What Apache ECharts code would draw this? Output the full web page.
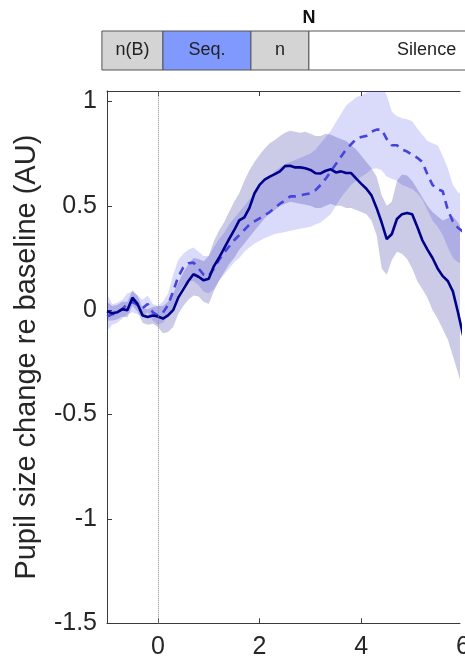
<!DOCTYPE html>
<html>
<head>
<meta charset="utf-8">
<script src="https://cdn.jsdelivr.net/npm/echarts@6/dist/echarts.min.js"></script>
<style>
  html, body { margin: 0; padding: 0; overflow: hidden; background: #ffffff; }
  #chart { width: 600px; height: 660px; }
</style>
</head>
<body>
<div id="chart"></div>
<script>
// Time relative to sequence onset (s)
const timeSec = [
  -1.0, -0.9, -0.8, -0.7, -0.6, -0.5, -0.4, -0.3, -0.2, -0.1,
   0.0,  0.1,  0.2,  0.3,  0.4,  0.5,  0.6,  0.7,  0.8,  0.9,
   1.0,  1.1,  1.2,  1.3,  1.4,  1.5,  1.6,  1.7,  1.8,  1.9,
   2.0,  2.1,  2.2,  2.3,  2.4,  2.5,  2.6,  2.7,  2.8,  2.9,
   3.0,  3.1,  3.2,  3.3,  3.4,  3.5,  3.6,  3.7,  3.8,  3.9,
   4.0,  4.1,  4.2,  4.3,  4.4,  4.5,  4.6,  4.7,  4.8,  4.9,
   5.0,  5.1,  5.2,  5.3,  5.4,  5.5,  5.6,  5.7,  5.8,  5.9,
   6.0
];

// Condition 1 (solid): mean and error band
const meanSolid = [
  -0.005, -0.015, -0.01, 0.005, 0.0, 0.06, 0.03, -0.025, -0.033, -0.025,
  -0.03, -0.04, -0.025, 0.0, 0.06, 0.1, 0.14, 0.172, 0.16, 0.143,
  0.15, 0.21, 0.25, 0.295, 0.34, 0.383, 0.43, 0.445, 0.49, 0.56,
  0.6, 0.625, 0.64, 0.652, 0.665, 0.69, 0.692, 0.684, 0.684, 0.68,
  0.672, 0.656, 0.655, 0.668, 0.675, 0.66, 0.665, 0.657, 0.657, 0.63,
  0.605, 0.582, 0.55, 0.49, 0.42, 0.34, 0.365, 0.437, 0.46, 0.466,
  0.46, 0.40, 0.335, 0.29, 0.25, 0.2, 0.163, 0.14, 0.09, -0.01,
  -0.12
];
const lowSolid = [
  -0.05, -0.05, -0.045, -0.03, -0.035, 0.02, -0.005, -0.06, -0.07, -0.065,
  -0.08, -0.11, -0.105, -0.08, -0.02, 0.02, 0.05, 0.07, 0.065, 0.04,
  0.03, 0.09, 0.14, 0.18, 0.22, 0.25, 0.29, 0.32, 0.35, 0.38,
  0.41, 0.44, 0.465, 0.48, 0.5, 0.51, 0.52, 0.515, 0.51, 0.505,
  0.5, 0.49, 0.49, 0.5, 0.51, 0.5, 0.5, 0.49, 0.49, 0.48,
  0.47, 0.46, 0.43, 0.36, 0.2, 0.17, 0.24, 0.28, 0.27, 0.245,
  0.2, 0.14, 0.1, 0.06, 0.0, -0.04, -0.09, -0.14, -0.22, -0.3,
  -0.38
];
const highSolid = [
  0.04, 0.02, 0.025, 0.04, 0.04, 0.095, 0.07, 0.01, 0.005, 0.015,
  0.02, 0.02, 0.04, 0.08, 0.13, 0.18, 0.22, 0.25, 0.245, 0.235,
  0.26, 0.33, 0.38, 0.42, 0.47, 0.52, 0.56, 0.62, 0.67, 0.71,
  0.745, 0.775, 0.8, 0.815, 0.835, 0.85, 0.86, 0.855, 0.85, 0.855,
  0.845, 0.835, 0.835, 0.845, 0.84, 0.83, 0.82, 0.81, 0.79, 0.77,
  0.74, 0.71, 0.68, 0.64, 0.55, 0.5, 0.52, 0.62, 0.65, 0.645,
  0.62, 0.58, 0.54, 0.5, 0.47, 0.45, 0.43, 0.44, 0.45, 0.42,
  0.38
];

// Condition 2 (dashed): mean and error band
const meanDashed = [
  -0.03, -0.02, -0.013, 0.005, 0.03, 0.04, 0.025, 0.01, 0.03, -0.01,
  -0.025, -0.012, 0.025, 0.09, 0.16, 0.205, 0.225, 0.228, 0.2, 0.17,
  0.163, 0.2, 0.24, 0.275, 0.305, 0.335, 0.36, 0.385, 0.41, 0.425,
  0.44, 0.455, 0.47, 0.49, 0.51, 0.525, 0.545, 0.545, 0.55, 0.555,
  0.56, 0.575, 0.6, 0.63, 0.665, 0.7, 0.735, 0.77, 0.795, 0.82,
  0.83, 0.835, 0.855, 0.865, 0.865, 0.82, 0.79, 0.79, 0.77, 0.76,
  0.745, 0.73, 0.71, 0.65, 0.6, 0.58, 0.57, 0.48, 0.425, 0.395,
  0.375
];
const lowDashed = [
  -0.1, -0.07, -0.06, -0.04, -0.02, -0.01, -0.02, -0.03, -0.01, -0.05,
  -0.07, -0.06, -0.03, 0.02, 0.08, 0.12, 0.14, 0.14, 0.12, 0.09,
  0.08, 0.1, 0.14, 0.17, 0.2, 0.23, 0.25, 0.28, 0.3, 0.32,
  0.333, 0.345, 0.355, 0.365, 0.37, 0.375, 0.38, 0.385, 0.39, 0.395,
  0.4, 0.41, 0.42, 0.44, 0.46, 0.5, 0.54, 0.57, 0.6, 0.62,
  0.64, 0.655, 0.675, 0.68, 0.67, 0.64, 0.63, 0.62, 0.6, 0.59,
  0.58, 0.56, 0.53, 0.48, 0.43, 0.4, 0.36, 0.3, 0.25, 0.23,
  0.22
];
const highDashed = [
  0.08, 0.03, 0.035, 0.05, 0.08, 0.09, 0.07, 0.05, 0.07, 0.03,
  0.02, 0.04, 0.08, 0.17, 0.24, 0.27, 0.29, 0.3, 0.28, 0.26,
  0.26, 0.3, 0.34, 0.37, 0.41, 0.44, 0.47, 0.5, 0.53, 0.56,
  0.59, 0.615, 0.64, 0.665, 0.685, 0.70, 0.71, 0.72, 0.73, 0.74,
  0.75, 0.77, 0.80, 0.83, 0.86, 0.9, 0.94, 0.98, 1.0, 1.02,
  1.03, 1.04, 1.06, 1.08, 1.07, 1.03, 0.95, 0.93, 0.92, 0.915,
  0.905, 0.87, 0.84, 0.81, 0.80, 0.79, 0.74, 0.68, 0.6, 0.565,
  0.55
];

// Axis ticks
const xTicks = [0, 2, 4, 6, 8];
const yTicks = [-1.5, -1, -0.5, 0, 0.5, 1];

// Trial timeline (s)
const phaseNames = ['n(B)', 'Seq.', 'n', 'Silence'];
const phaseStart = [-1.1, 0.1, 1.83, 2.97];
const phaseEnd = [0.1, 1.83, 2.97, 7.6];
const eventNames = ['N'];
const eventTime = [2.97];

const FONT = '"Liberation Sans", Arial, Helvetica, sans-serif';
const AXIS_COLOR = '#3a3a3a';
const TEXT_COLOR = '#262626';
const X_MIN = -1;
const X_MAX = 8;          // full time scale (labels, timeline)
const X_MAX_PLOT = 5.94;  // visible end of the data panel
const Y_MIN = -1.5, Y_MAX = 1.05;

const phaseFill = { 'n(B)': '#d4d4d4', 'Seq.': '#8099ff', 'n': '#d4d4d4', 'Silence': '#ffffff' };

function pairs(ys) { return timeSec.map((t, i) => [t, ys[i]]); }

const chart = echarts.init(document.getElementById('chart'), null, { renderer: 'canvas' });

// Shaded error band: one polygon through the upper bound and back along the lower bound
function bandSeries(lo, hi, color) {
  return {
    type: 'custom', xAxisIndex: 0, yAxisIndex: 0, clip: true, silent: true, z: 1,
    data: timeSec.map((t, i) => [t, lo[i], hi[i]]),
    renderItem: function (params, api) {
      if (params.dataIndex !== 0) return null;
      const upper = timeSec.map((t, i) => api.coord([t, hi[i]]));
      const lower = timeSec.map((t, i) => api.coord([t, lo[i]])).reverse();
      return {
        type: 'polygon',
        shape: { points: upper.concat(lower) },
        style: { fill: color, stroke: null }
      };
    }
  };
}

const option = {
  animation: false,
  backgroundColor: '#ffffff',
  textStyle: { fontFamily: FONT },
  grid: [
    // data panel
    { left: 107, top: 91, right: 140, bottom: 36.7, show: false },
    // timeline strip
    { left: 107, top: 0, right: 35.3, height: 70, show: false },
    // time labels under the panel (same scale as the panel)
    { left: 107, top: 91, right: 35.3, bottom: 36.7, show: false }
  ],
  xAxis: [
    {
      type: 'value', gridIndex: 0, position: 'bottom', min: X_MIN, max: X_MAX_PLOT,
      axisLine: { show: true, onZero: false, lineStyle: { color: AXIS_COLOR, width: 1 } },
      axisTick: { show: true, inside: true, length: 5, customValues: xTicks, lineStyle: { color: AXIS_COLOR } },
      axisLabel: { show: false },
      splitLine: { show: false }
    },
    {
      type: 'value', gridIndex: 0, position: 'top', min: X_MIN, max: X_MAX_PLOT,
      axisLine: { show: true, onZero: false, lineStyle: { color: AXIS_COLOR, width: 1 } },
      axisTick: { show: true, inside: true, length: 5, customValues: xTicks, lineStyle: { color: AXIS_COLOR } },
      axisLabel: { show: false },
      splitLine: { show: false }
    },
    {
      type: 'value', gridIndex: 1, min: X_MIN, max: X_MAX, show: false
    },
    {
      type: 'value', gridIndex: 2, position: 'bottom', min: X_MIN, max: X_MAX,
      axisLine: { show: false },
      axisTick: { show: false },
      axisLabel: { show: true, customValues: xTicks, fontSize: 25, color: TEXT_COLOR, margin: 14, fontFamily: FONT },
      splitLine: { show: false }
    }
  ],
  yAxis: [
    {
      type: 'value', gridIndex: 0, position: 'left', min: Y_MIN, max: Y_MAX,
      name: 'Pupil size change re baseline (AU)', nameLocation: 'middle', nameGap: 66,
      nameTextStyle: { fontSize: 29, color: TEXT_COLOR, fontFamily: FONT },
      axisLine: { show: true, onZero: false, lineStyle: { color: AXIS_COLOR, width: 1 } },
      axisTick: { show: true, inside: true, length: 5, customValues: yTicks, lineStyle: { color: AXIS_COLOR } },
      axisLabel: { show: true, customValues: yTicks, fontSize: 25, color: TEXT_COLOR, margin: 10, fontFamily: FONT },
      splitLine: { show: false }
    },
    {
      type: 'value', gridIndex: 1, min: 0, max: 1.795, show: false
    },
    {
      type: 'value', gridIndex: 2, min: Y_MIN, max: Y_MAX, show: false
    }
  ],
  series: [
    bandSeries(lowDashed, highDashed, 'rgba(70, 70, 235, 0.2)'),
    bandSeries(lowSolid, highSolid, 'rgba(20, 20, 150, 0.22)'),
    {
      // stimulus onset marker
      type: 'line', xAxisIndex: 0, yAxisIndex: 0, data: [], silent: true,
      markLine: {
        silent: true, symbol: 'none', animation: false,
        label: { show: false },
        lineStyle: { type: 'dotted', color: '#8a8a8a', width: 1 },
        data: [{ xAxis: 0 }]
      }
    },
    {
      type: 'line', xAxisIndex: 0, yAxisIndex: 0, data: pairs(meanDashed),
      symbol: 'none', z: 3,
      lineStyle: { color: '#4545dc', width: 2.6, type: [8, 6] }
    },
    {
      type: 'line', xAxisIndex: 0, yAxisIndex: 0, data: pairs(meanSolid),
      symbol: 'none', z: 4,
      lineStyle: { color: '#00008b', width: 2.6 }
    },
    {
      // trial phases
      type: 'custom', xAxisIndex: 2, yAxisIndex: 1, clip: false, silent: true,
      data: phaseNames.map((n, i) => [phaseStart[i], phaseEnd[i], i]),
      renderItem: function (params, api) {
        const i = api.value(2);
        const name = phaseNames[i];
        const p0 = api.coord([api.value(0), 1]);
        const p1 = api.coord([api.value(1), 0]);
        return {
          type: 'group',
          children: [
            {
              type: 'rect',
              shape: { x: p0[0], y: p0[1], width: p1[0] - p0[0], height: p1[1] - p0[1] },
              style: { fill: phaseFill[name], stroke: '#555555', lineWidth: 1 }
            },
            {
              type: 'text',
              style: {
                text: name, x: (p0[0] + p1[0]) / 2, y: (p0[1] + p1[1]) / 2,
                align: 'center', verticalAlign: 'middle',
                fontSize: 18, fontFamily: FONT, fill: '#222222'
              }
            }
          ]
        };
      }
    },
    {
      // event markers above the timeline
      type: 'custom', xAxisIndex: 2, yAxisIndex: 1, clip: false, silent: true,
      data: eventNames.map((n, i) => [eventTime[i], i]),
      renderItem: function (params, api) {
        const p = api.coord([api.value(0), 1]);
        return {
          type: 'text',
          style: {
            text: eventNames[api.value(1)], x: p[0], y: p[1] - 13,
            align: 'center', verticalAlign: 'middle',
            fontSize: 18, fontWeight: 'bold', fontFamily: FONT, fill: '#111111'
          }
        };
      }
    }
  ]
};

chart.setOption(option);
</script>
</body>
</html>
